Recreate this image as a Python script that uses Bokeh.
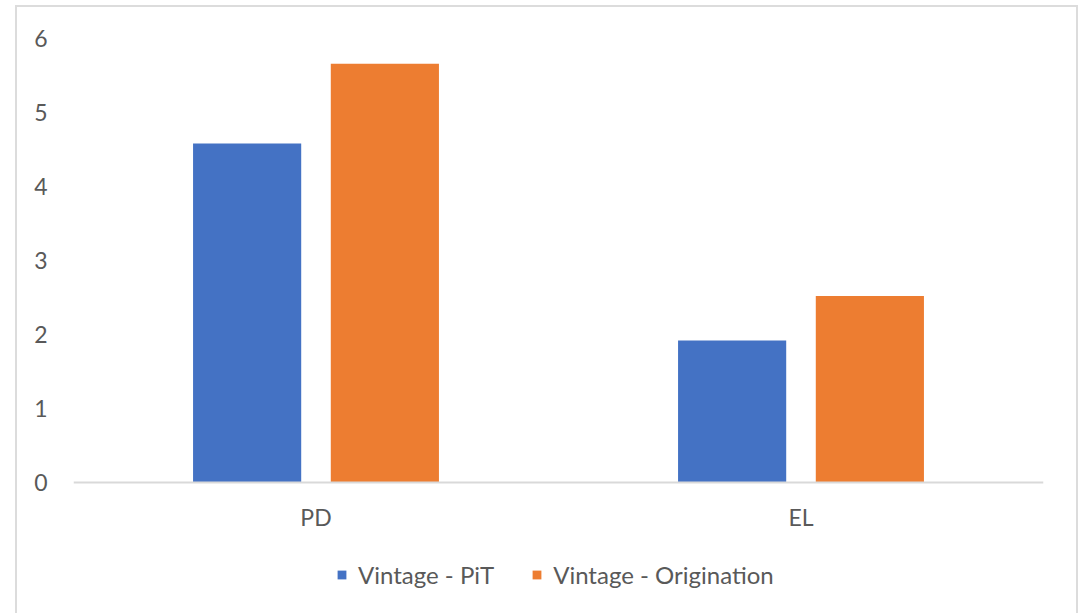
from bokeh.plotting import figure
from bokeh.models import ColumnDataSource, FactorRange, Range1d, Legend, LegendItem, FixedTicker, Span
from bokeh.core.properties import value
from bokeh.transform import dodge
from bokeh.embed import file_html
from bokeh.resources import INLINE

categories = ["PD", "EL"]
series_names = ["Vintage - PiT", "Vintage - Origination"]
pit_values = [4.58, 1.92]
orig_values = [5.66, 2.52]
y_ticks = [0, 1, 2, 3, 4, 5, 6]

colors = ["#4472C4", "#ED7D31"]
text_color = "#595959"
font = "Lato"

source = ColumnDataSource(data=dict(cat=categories, pit=pit_values, orig=orig_values,
                                    label_y=[-0.47] * len(categories)))

p = figure(
    x_range=FactorRange(*categories, range_padding=0),
    y_range=Range1d(-1.77, 6),
    width=1059, height=606,
    output_backend="svg", toolbar_location=None,
    x_axis_location=None,
    min_border_left=56, min_border_right=33, min_border_top=31, min_border_bottom=0,
    margin=(7, 0, 0, 17),
    styles={"box-shadow": "0 0 0 2px #DCDCDC"},
)
p.outline_line_color = None
p.xgrid.grid_line_color = None
p.ygrid.grid_line_color = None

r1 = p.vbar(x=dodge("cat", -0.142, range=p.x_range), top="pit", width=0.223,
            source=source, fill_color=colors[0], line_color=None)
r2 = p.vbar(x=dodge("cat", 0.142, range=p.x_range), top="orig", width=0.223,
            source=source, fill_color=colors[1], line_color=None)

# category axis line and labels
p.add_layout(Span(location=0, dimension="width", line_color="#D9D9D9", line_width=2))
p.text(x="cat", y="label_y", text="cat", source=source,
       text_font=value(font), text_font_size="23px", text_color=text_color,
       text_align="center", text_baseline="middle")

p.yaxis.ticker = FixedTicker(ticks=y_ticks)
p.yaxis.axis_line_color = None
p.yaxis.major_tick_line_color = None
p.yaxis.minor_tick_line_color = None
p.yaxis.major_label_text_font = font
p.yaxis.major_label_text_font_size = "23px"
p.yaxis.major_label_text_color = text_color
p.yaxis.major_label_standoff = 20

legend = Legend(
    items=[LegendItem(label=series_names[0], renderers=[r1]),
           LegendItem(label=series_names[1], renderers=[r2])],
    orientation="horizontal", location=(263, 24),
    label_text_font=font, label_text_font_size="24px", label_text_color=text_color,
    glyph_width=11, glyph_height=11, spacing=37, label_standoff=11,
    border_line_color=None, background_fill_alpha=0, margin=0, padding=0,
)
p.add_layout(legend, "center")

open("out.html", "w").write(file_html(p, INLINE))
